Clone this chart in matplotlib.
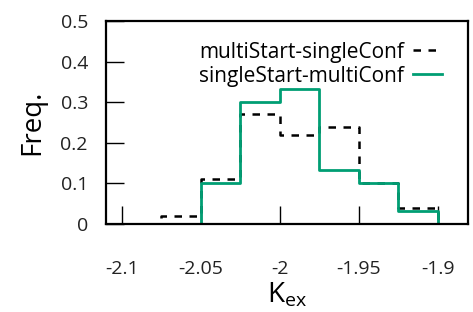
import numpy as np
import matplotlib
matplotlib.use("Agg")
import matplotlib.pyplot as plt
from matplotlib.patches import Rectangle

plt.rcParams['font.family'] = ['Open Sans', 'DejaVu Sans']

# bin edges of the K_ex histogram (width 0.025)
edges = [-2.1, -2.075, -2.05, -2.025, -2.0, -1.975, -1.95, -1.925, -1.9]
multi_start = [0.0, 0.02, 0.11, 0.27, 0.22, 0.24, 0.10, 0.04]
single_start = [0.0, 0.0, 0.10, 0.30, 0.333, 0.133, 0.10, 0.033]

x_ticks = [-2.1, -2.05, -2.0, -1.95, -1.9]
x_labels = ['-2.1', '-2.05', '-2', '-1.95', '-1.9']
y_ticks = [0, 0.1, 0.2, 0.3, 0.4, 0.5]
y_labels = ['0', '0.1', '0.2', '0.3', '0.4', '0.5']

x_min, x_max = -2.11, -1.881


def step_line(vals):
    # extend with zeros up to the right edge of the plot
    xs = list(edges) + [x_max]
    ys = list(vals) + [0.0, 0.0]
    return xs, ys


fig = plt.figure(figsize=(4.73, 3.12), dpi=100)
ax = fig.add_axes([106 / 473, 1 - 224 / 312, 362 / 473, 203 / 312])

xs, ys = step_line(multi_start)
ax.step(xs, ys, where='post', color='black', lw=1.8, dashes=(3, 3),
        label='multiStart-singleConf')
xs, ys = step_line(single_start)
ax.step(xs, ys, where='post', color='#009e73', lw=2,
        label='singleStart-multiConf')

ax.set_xlim(x_min, x_max)
ax.set_ylim(0, 0.5)
ax.set_xticks(x_ticks)
ax.set_xticklabels(x_labels)
ax.set_yticks(y_ticks)
ax.set_yticklabels(y_labels)
ax.tick_params(direction='in', length=13, width=1, labelsize=14,
               colors='black', labelcolor='#222222')
ax.tick_params(axis='y', pad=13)
ax.tick_params(axis='x', pad=26)
for s in ax.spines.values():
    s.set_linewidth(1.6)
    s.set_color('black')
    s.set_visible(True)

ax.set_xlabel(r'K$_{\mathregular{ex}}$', fontsize=20, labelpad=2)
ax.set_ylabel('Freq.', fontsize=20, labelpad=10)

ax.legend(loc='upper right', bbox_to_anchor=(0.952, 0.94), frameon=False,
          fontsize=15, markerfirst=False, handlelength=1.4,
          handletextpad=0.45, labelspacing=0.15, borderaxespad=0)

fig.savefig('out.png', dpi=100)
